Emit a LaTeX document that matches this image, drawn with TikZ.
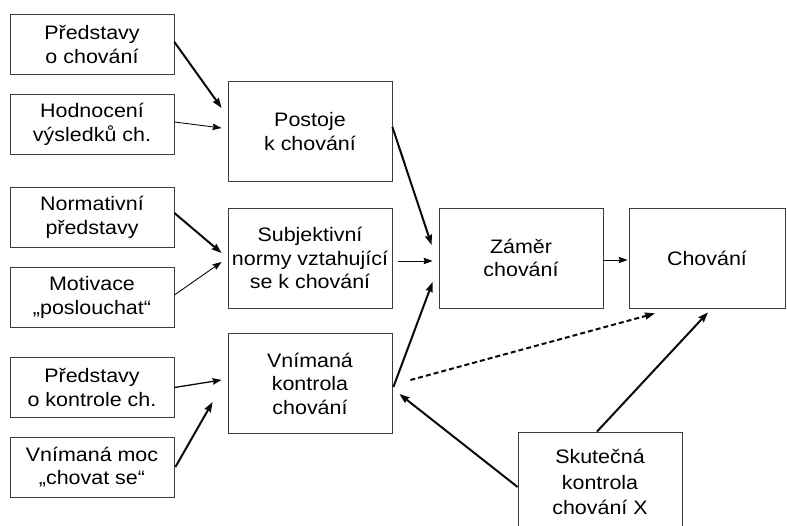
\documentclass[tikz,border=0pt]{standalone}
\usepackage{fontspec}
\setmainfont{Liberation Sans}[FakeStretch=1.1]
\usepackage{tikz}
\usetikzlibrary{arrows.meta, calc}
\definecolor{mydark}{RGB}{10,10,10}
\definecolor{myframe}{RGB}{60,60,60}
\tikzset{
  srcbox/.style={rectangle, draw=myframe, fill=white,
    minimum width=164pt, minimum height=60pt, align=center,
    font=\fontsize{19.5}{23.5}\selectfont, line width=0.8pt, inner sep=0pt},
  midbox/.style={srcbox, minimum height=100pt},
  arrow/.style={-{Stealth[length=9pt, width=6.5pt, inset=1pt]}, line width=0.9pt, color=mydark},
  thickarrow/.style={-{Stealth[length=10pt, width=7pt, inset=1pt]}, line width=2pt, color=mydark},
  dasharrow/.style={thickarrow, dash pattern=on 5pt off 3pt}
}
\begin{document}
\begin{tikzpicture}[x=1pt, y=-1pt]
  \useasboundingbox (0,0) rectangle (787,526);
  \clip (0,0) rectangle (787,526);

  % Left column
  \node[srcbox] (predstavy)  at (92,44.5)  {Představy\\o chování};
  \node[srcbox] (hodnoceni)  at (92,124.5) {Hodnocení\\výsledků ch.};
  \node[srcbox] (normativni) at (92,217.5) {Normativní\\představy};
  \node[srcbox] (motivace)   at (92,297.5) {Motivace\\„poslouchat“};
  \node[srcbox] (kontrolach) at (92,387.5) {Představy\\o kontrole ch.};
  \node[srcbox] (moc)        at (92,467)   {Vnímaná moc\\„chovat se“};

  % Middle column
  \node[midbox] (postoje)    at (310,131.5) {Postoje\\k chování};
  \node[midbox] (subjektivni) at (310,258)  {Subjektivní\\normy vztahující\\se k chování};
  \node[midbox] (vnimana)    at (310,383.5) {Vnímaná\\kontrola\\chování};

  % Right part
  \node[midbox] (zamer)      at (521,258)   {Záměr\\chování};
  \node[midbox, minimum width=156pt] (chovani) at (707,258) {Chování};
  \node[midbox, font=\fontsize{19.5}{25.5}\selectfont] (skutecna) at (600,482) {Skutečná\\kontrola\\chování X};

  % Arrows into the middle column
  \draw[thickarrow] ($(predstavy.east)+(0,-2.5)$) -- ($(postoje.west)+(-6,-23.5)$);
  \draw[arrow] ($(hodnoceni.east)+(0,-2.5)$) -- ($(postoje.west)+(-6,-3.5)$);
  \draw[thickarrow] ($(normativni.east)+(0,-4.5)$) -- ($(subjektivni.west)+(-6,-5)$);
  \draw[arrow] ($(motivace.east)+(0,-2.5)$) -- ($(subjektivni.west)+(-6,4)$);
  \draw[arrow, line width=1.3pt] (kontrolach.east) -- ($(vnimana.west)+(-6,-3.5)$);
  \draw[thickarrow] ($(moc.east)+(1,0)$) -- ($(vnimana.west)+(-15,18.5)$);

  % Arrows into the intention
  \draw[thickarrow] ($(postoje.east)+(0,-4.5)$) -- ($(zamer.west)+(-7,-13)$);
  \draw[arrow] ($(subjektivni.east)+(6,3)$) -- ($(zamer.west)+(-6,3)$);
  \draw[thickarrow] ($(vnimana.east)+(1,3.5)$) -- ($(zamer.west)+(-6,24)$);

  % Arrows into the behaviour
  \draw[arrow] ($(zamer.east)+(0,2)$) -- ($(chovani.west)+(-1,2)$);
  \draw[dasharrow] ($(vnimana.east)+(18,-3.5)$) -- ($(chovani.south)+(-52,5)$);
  \draw[thickarrow] ($(skutecna.north)+(-3,0)$) -- ($(chovani.south)+(1,4)$);
  \draw[thickarrow] ($(skutecna.west)+(0,5)$) -- ($(vnimana.east)+(7,10.5)$);
\end{tikzpicture}
\end{document}
